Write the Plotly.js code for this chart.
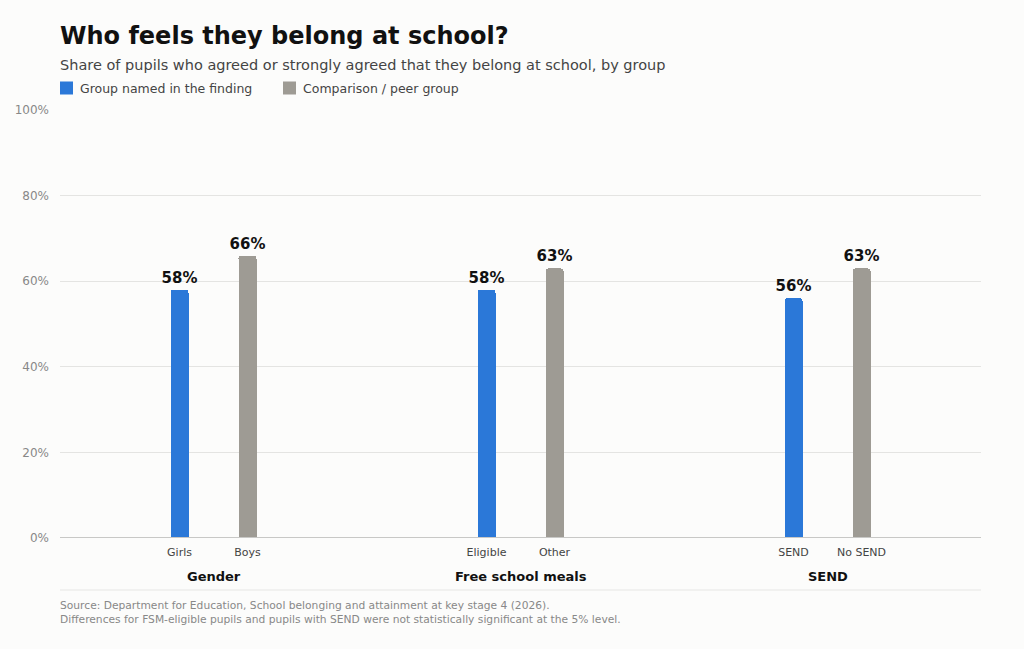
<!DOCTYPE html>
<html>
<head>
<meta charset="utf-8">
<script src="https://cdn.plot.ly/plotly-3.0.1.min.js"></script>
<style>
html,body{margin:0;padding:0;background:#fcfcfb;}
#chart{width:1024px;height:649px;}
</style>
</head>
<body>
<div id="chart"></div>
<script>
var groups = ["Gender", "Free school meals", "SEND"];
var focusLabels = ["Girls", "Eligible", "SEND"];
var peerLabels = ["Boys", "Other", "No SEND"];
var focusValues = [58, 58, 56];
var peerValues = [66, 63, 63];
var seriesNames = ["Group named in the finding", "Comparison / peer group"];
var seriesColors = ["#2b78d8", "#9e9b94"];
var yTicks = [0, 20, 40, 60, 80, 100];

var OFF = 34 / 307;
var focusX = groups.map(function (g, i) { return i + 0.5 - OFF; });
var peerX = groups.map(function (g, i) { return i + 0.5 + OFF; });

var font = "DejaVu Sans, sans-serif";
var barW = 18 / 307;

function barTrace(name, xs, ys, color) {
  return {
    type: "bar", name: name, x: xs, y: ys, width: barW,
    marker: { color: color, cornerradius: 3 },
    text: ys.map(function (v) { return v + "%"; }),
    textposition: "outside", cliponaxis: false, constraintext: "none",
    textfont: { family: font, size: 15, color: "#111111", weight: "bold" },
    hoverinfo: "skip", showlegend: false
  };
}

var traces = [
  barTrace(seriesNames[0], focusX, focusValues, seriesColors[0]),
  barTrace(seriesNames[1], peerX, peerValues, seriesColors[1])
];

var annotations = groups.map(function (g, i) {
  return {
    text: "<b>" + g + "</b>", x: i + 0.5, xref: "x", y: 0, yref: "paper",
    yshift: -38, showarrow: false, yanchor: "middle",
    font: { family: font, size: 13, color: "#111111" }
  };
});
annotations.push({
  text: "Source: Department for Education, School belonging and attainment at key stage 4 (2026).<br>Differences for FSM-eligible pupils and pupils with SEND were not statistically significant at the 5% level.",
  x: 0, xref: "paper", xanchor: "left", y: 0, yref: "paper", yanchor: "top",
  yshift: -59, xshift: -2, showarrow: false, align: "left",
  font: { family: font, size: 10.7, color: "#888888" }
});
annotations.push({
  text: "Share of pupils who agreed or strongly agreed that they belong at school, by group",
  x: 0, xref: "paper", xanchor: "left", y: 1, yref: "paper", yanchor: "middle",
  yshift: 45, xshift: -2, showarrow: false, align: "left",
  font: { family: font, size: 14.5, color: "#444444" }
});

// manual legend
var legendX = [0, 223];
var shapes = [
  { type: "line", xref: "paper", yref: "y", x0: 0, x1: 1, y0: 0, y1: 0,
    line: { color: "#c8c8c6", width: 2 } },
  { type: "line", xref: "paper", yref: "paper", x0: 0, x1: 1, y0: -52 / 428, y1: -52 / 428,
    line: { color: "#e6e6e4", width: 1 } }
];
seriesNames.forEach(function (n, i) {
  shapes.push({
    type: "rect", xref: "paper", yref: "paper",
    xsizemode: "pixel", ysizemode: "pixel", xanchor: 0, yanchor: 1,
    x0: legendX[i], x1: legendX[i] + 13, y0: 15.5, y1: 28.5,
    fillcolor: seriesColors[i], line: { width: 0 }
  });
  annotations.push({
    text: n, x: 0, xref: "paper", xanchor: "left", y: 1, yref: "paper",
    yanchor: "middle", xshift: legendX[i] + 18, yshift: 22, showarrow: false,
    font: { family: font, size: 12.5, color: "#444444" }
  });
});

var layout = {
  width: 1024, height: 649,
  paper_bgcolor: "#fcfcfb", plot_bgcolor: "#fcfcfb",
  margin: { l: 60, r: 43, t: 110, b: 111 },
  title: {
    text: "<b>Who feels they belong at school?</b>",
    x: 60 / 1024, xanchor: "left", y: 1 - 36 / 649, yanchor: "middle",
    font: { family: font, size: 24, color: "#111111" }
  },
  showlegend: false,
  bargap: 0,
  xaxis: {
    range: [0, 3], tickmode: "array",
    tickvals: focusX.concat(peerX), ticktext: focusLabels.concat(peerLabels),
    showgrid: false, zeroline: false, showline: false, ticks: "",
    ticklabelstandoff: 6,
    tickfont: { family: font, size: 11, color: "#444444" }, fixedrange: true
  },
  yaxis: {
    range: [0, 100], tickmode: "array", tickvals: yTicks,
    ticktext: yTicks.map(function (t) { return t + "%"; }),
    showgrid: true, gridcolor: "#e4e4e2", gridwidth: 1,
    zeroline: false, showline: false, ticks: "",
    ticklabelstandoff: 10,
    tickfont: { family: font, size: 12, color: "#888888" }, fixedrange: true
  },
  shapes: shapes,
  annotations: annotations
};

Plotly.newPlot("chart", traces, layout, { displayModeBar: false, staticPlot: true });
</script>
</body>
</html>
